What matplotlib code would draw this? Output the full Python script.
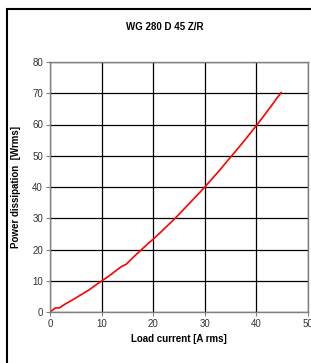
import matplotlib
matplotlib.use("Agg")
import matplotlib.pyplot as plt
from matplotlib.patches import Rectangle

plt.rcParams['font.family'] = ['Liberation Sans', 'DejaVu Sans']

title = "WG 280 D 45 Z/R"
xlabel = "Load current [A rms]"
ylabel = "Power dissipation  [Wrms]"
current = [0, 0.5, 1.0, 1.8, 3.0, 4.5, 6.0, 7.5, 9.0, 10.0, 11.5, 13.0, 13.8, 14.8, 16.0,
           17.5, 19.0, 20.0, 21.5, 23.0, 24.5, 26.0, 27.5, 29.0, 30.0, 31.5, 33.0, 34.5,
           36.0, 37.0, 38.0, 39.0, 40.0, 41.0, 42.0, 43.0, 44.0, 44.8]
power = [0, 0.6, 1.3, 1.3, 2.6, 4.0, 5.5, 7.0, 8.8, 9.9, 11.6, 13.5, 14.5, 15.3, 17.3,
         19.6, 21.9, 23.3, 25.6, 28.0, 30.4, 33.0, 35.6, 38.2, 40.0, 42.8, 45.6, 48.6,
         51.5, 53.5, 55.5, 57.6, 59.7, 61.8, 64.0, 66.2, 68.5, 70.2]
xticks = [0, 10, 20, 30, 40, 50]
yticks = [0, 10, 20, 30, 40, 50, 60, 70, 80]

fig = plt.figure(figsize=(3.11, 3.63), dpi=100)
W, H = 311, 363
ax = fig.add_axes([50 / W, 1 - 312 / H, 258 / W, 250 / H])
ax.plot(current, power, color='#ff0000', lw=1.2)
ax.set_xlim(0, 50)
ax.set_ylim(0, 80)
ax.set_xticks(xticks)
ax.set_yticks(yticks)
ax.grid(True, color='black', lw=0.9)
for s in ax.spines.values():
    s.set_color('#808080')
    s.set_linewidth(1.0)
ax.tick_params(axis='both', labelsize=7, colors='#333333', length=3, width=0.8, pad=2)
ax.tick_params(axis='both', color='#808080')
ax.set_xlabel(xlabel, fontsize=7, fontweight='bold', labelpad=4)
ax.set_ylabel(ylabel, fontsize=7, fontweight='bold', labelpad=8)
fig.text(165 / W, 1 - 27 / H, title, ha='center', va='center', fontsize=7, fontweight='bold')
fig.patches.append(Rectangle((7 / W, -0.1), 1.2, 1 - 9 / H + 0.1, transform=fig.transFigure,
                             fill=False, edgecolor='black', lw=1.5))
fig.savefig('out.png', dpi=100)
